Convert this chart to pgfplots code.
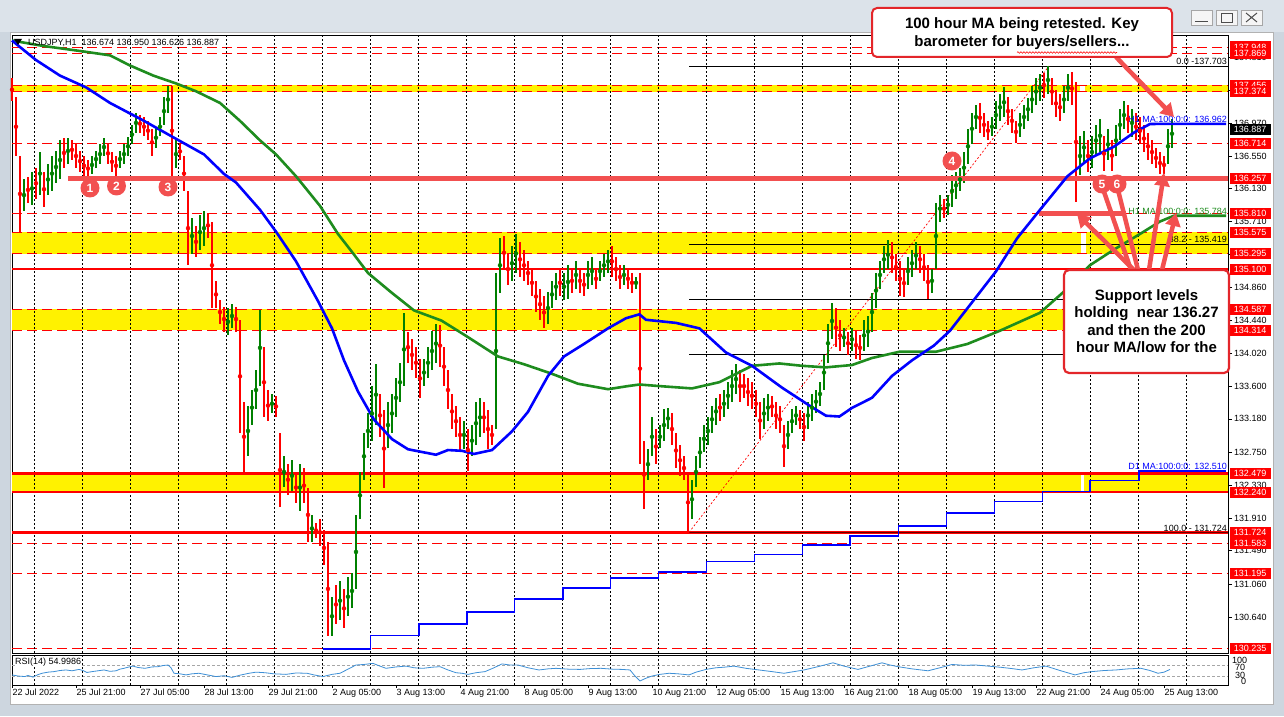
\documentclass[border=0pt]{standalone}
\usepackage{fontspec}
\setmainfont{Liberation Sans}
\usepackage{pgfplots}
\usepackage{pgfplotstable}
\pgfplotsset{compat=1.18}
\usetikzlibrary{arrows.meta,decorations.pathmorphing}
\definecolor{boxred}{HTML}{E3262A}
\definecolor{lred}{HTML}{F25050}
\definecolor{candgreen}{HTML}{008000}
\definecolor{candred}{HTML}{FF0000}
\definecolor{maone}{HTML}{0000FF}
\definecolor{matwo}{HTML}{1E8C1E}
\definecolor{rsiblue}{HTML}{3D8FD6}
\definecolor{titlebg}{HTML}{DCE3EA}
\definecolor{framebg}{HTML}{CDD6DF}
\newcommand{\sm}{\fontsize{9}{10}\selectfont}
\newcommand{\bfnt}{\fontsize{15}{17.5}\selectfont\bfseries}

\pgfplotstableread{
x lo hi
6 135.85 136.25
10 135.92 136.35
14 136.05 136.60
18 136.05 136.45
20 136.10 136.55
22 136.20 136.62
24 136.25 136.75
28 136.45 136.78
40 136.32 136.55
42 136.40 136.62
44 136.45 136.70
46 136.55 136.78
54 136.40 136.62
56 136.45 136.70
58 136.55 136.80
60 136.70 136.95
62 136.85 137.10
72 136.65 136.92
74 136.80 137.05
76 136.95 137.30
78 137.10 137.45
82 136.40 136.75
90 135.30 135.75
94 135.35 135.80
96 135.40 135.85
108 134.25 134.60
110 134.35 134.65
118 132.70 133.35
120 133.10 133.55
122 133.30 133.80
124 133.60 134.58
130 133.25 133.50
136 132.30 132.70
140 132.25 132.65
144 132.00 132.60
150 131.60 131.95
160 130.40 130.90
164 130.60 131.10
168 130.65 131.15
170 130.75 131.20
172 131.00 131.95
174 131.90 132.50
176 132.40 133.00
178 132.80 133.25
180 132.90 133.60
182 133.10 133.88
188 132.80 133.40
190 133.00 133.50
192 133.20 133.70
194 133.40 133.90
196 133.60 134.54
206 133.60 133.95
208 133.70 134.10
210 133.80 134.30
212 133.90 134.39
226 132.80 133.15
230 132.70 133.10
232 132.85 133.40
234 132.95 133.45
242 133.05 135.05
244 134.80 135.50
250 134.95 135.40
252 135.05 135.55
268 134.40 134.80
270 134.60 134.95
272 134.70 135.05
276 134.70 135.05
278 134.72 135.15
282 134.85 135.20
288 134.85 135.20
290 134.90 135.25
294 134.95 135.20
296 135.00 135.30
298 135.05 135.35
306 134.90 135.15
312 134.85 135.00
318 132.40 132.80
320 132.70 133.20
324 132.80 133.10
326 132.90 133.30
328 133.05 133.32
340 131.90 132.40
342 132.30 132.70
344 132.55 132.95
346 132.75 133.10
348 132.85 133.20
350 133.00 133.35
352 133.10 133.45
356 133.20 133.55
358 133.30 133.65
360 133.40 133.80
362 133.50 133.88
376 133.05 133.45
378 133.15 133.50
388 132.80 133.15
390 133.00 133.30
392 133.10 133.35
398 133.05 133.40
400 133.15 133.50
402 133.25 133.55
404 133.35 133.65
406 133.55 134.00
408 133.90 134.40
410 134.20 134.67
416 134.10 134.35
420 134.05 134.35
426 134.05 134.45
428 134.10 134.50
430 134.30 134.80
432 134.60 135.05
434 134.85 135.20
436 135.05 135.40
438 135.10 135.47
448 134.90 135.25
450 135.00 135.35
452 135.10 135.45
460 134.80 135.10
462 135.10 135.95
464 135.70 136.05
468 135.80 136.05
470 135.90 136.30
472 136.00 136.35
474 136.10 136.40
476 136.20 136.60
478 136.45 136.90
480 136.70 137.10
482 136.90 137.20
490 136.80 137.05
492 136.90 137.25
494 137.00 137.35
496 137.05 137.43
504 136.80 137.10
506 136.90 137.20
508 137.00 137.30
510 137.10 137.45
512 137.20 137.55
514 137.25 137.60
518 137.35 137.70
526 137.10 137.45
528 137.25 137.60
534 136.30 136.80
536 136.45 136.87
540 136.40 136.80
542 136.55 136.95
544 136.60 137.02
548 136.50 136.90
552 136.55 136.95
554 136.75 137.15
556 136.90 137.25
560 136.80 137.15
578 136.45 136.90
580 136.65 137.02
}\greenbars

\pgfplotstableread{
x lo hi
0 137.25 137.55
2 136.55 137.30
4 135.58 136.55
8 135.95 136.28
12 136.00 136.40
16 135.90 136.35
26 136.40 136.78
30 136.50 136.76
32 136.40 136.70
34 136.35 136.62
36 136.30 136.55
38 136.28 136.50
48 136.45 136.72
50 136.35 136.60
52 136.30 136.55
64 136.85 137.08
66 136.80 137.05
68 136.75 137.00
70 136.55 136.90
80 136.30 137.45
84 136.50 136.72
86 136.10 136.55
88 135.15 136.10
92 135.25 135.65
98 135.50 135.82
100 134.60 135.70
102 134.60 134.95
104 134.40 134.70
106 134.30 134.62
112 134.30 134.62
114 133.00 134.45
116 132.50 133.40
126 133.20 134.10
128 133.15 133.55
132 133.20 133.48
134 132.05 133.00
138 132.20 132.60
142 132.10 132.50
146 132.10 132.55
148 131.60 132.30
152 131.65 131.85
154 131.55 131.90
156 131.30 131.75
158 130.40 131.60
162 130.55 131.05
166 130.50 131.00
184 132.95 133.50
186 132.30 133.30
198 133.90 134.30
200 133.80 134.20
202 133.70 134.10
204 133.45 133.95
214 133.85 134.39
216 133.60 134.10
218 133.30 133.80
220 133.05 133.50
222 132.95 133.35
224 132.75 133.20
228 132.51 133.05
236 133.00 133.40
238 132.80 133.30
240 132.85 133.10
246 135.10 135.52
248 134.90 135.30
254 135.00 135.45
256 134.95 135.35
258 134.90 135.20
260 134.75 135.10
262 134.55 134.95
264 134.45 134.85
266 134.34 134.75
274 134.75 135.10
280 134.80 135.10
284 134.80 135.10
286 134.75 135.05
292 134.85 135.10
300 135.00 135.40
302 134.95 135.25
304 134.85 135.15
308 134.85 135.10
310 134.80 135.05
314 132.60 135.05
316 132.03 132.90
322 132.60 133.05
330 132.85 133.25
332 132.55 133.00
334 132.45 132.85
336 132.40 132.70
338 131.72 132.50
354 133.15 133.50
364 133.40 133.80
366 133.45 133.75
368 133.35 133.70
370 133.30 133.65
372 133.20 133.55
374 132.92 133.40
380 133.20 133.48
382 133.05 133.40
384 133.00 133.35
386 132.56 133.10
394 133.05 133.30
396 132.90 133.25
412 134.10 134.60
414 134.05 134.45
418 134.00 134.30
422 133.95 134.30
424 133.93 134.25
440 135.05 135.45
442 134.95 135.30
444 134.75 135.20
446 134.74 135.10
454 135.05 135.40
456 134.95 135.30
458 134.72 135.15
466 135.75 136.00
484 136.85 137.23
486 136.80 137.10
488 136.75 137.00
498 136.95 137.30
500 136.85 137.15
502 136.72 137.00
516 137.30 137.62
520 137.20 137.55
522 137.05 137.40
524 137.00 137.35
530 137.20 137.63
532 135.96 137.50
538 136.35 136.75
546 136.36 136.80
550 136.36 136.75
558 136.85 137.20
562 136.75 137.10
564 136.70 137.05
566 136.60 136.95
568 136.50 136.85
570 136.45 136.75
572 136.40 136.65
574 136.32 136.60
576 136.32 136.55
}\redbars

\pgfplotstableread{
x v
0 34
3 30
6.5 28
8 32
10.5 26
13 35
15 40
18 44
21 46
24 50
27 52
30 49
33.5 54
35.5 50
37.5 43
41 47
46 52
49 47
52 49
54 55
56 58
58 62
60.5 66
63 61
66.5 58
70 63
73 64
75.5 68
78 70
79.5 60
81 40
84 38
87 34
90 38
93.5 40
97 35
102 28
106 31
110 25
114 33
118.5 40
122 44
126.5 42
131 38
137 36
142 41
147.5 40
151 34
155.5 28
160 36
164 40
168 55
172 70
176 72
180.5 76
184 66
187 58
192 63
197 66
201 60
205.5 58
210 62
214 64
218 52
222 42
225 40
228 36
232 42
236.5 46
241 60
245 74
249 70
253 70
258 60
263.5 52
268 56
272 58
278 55
284 54
289 57
294.5 58
300 55
305 54
309 52
311.5 30
314 12
317 22
320 30
324 36
328.5 40
333 38
338.5 34
342 44
347 54
352 60
356 62
361 66
367 58
373.5 52
380 46
386 40
391 46
396 52
403 64
410.5 78
416 66
423 54
429 66
435 78
439 70
443 64
450 56
458 49
464 60
470 72
476 69
482 70
488 66
494.7 61.5
500 57
505 52
511 60
517 66
524 50
531.5 34
536 42
540 46
546 50
552 52
558 56
564.5 58
569 50
573 40
576 44
579 54
}\rsidata

\newcommand{\plab}[1]{\node[fill=candred, text=white, font=\sm, anchor=west, minimum width=41pt, minimum height=11pt, inner sep=0pt, xshift=1.5pt] at (axis cs:608,#1) {#1};}

\begin{document}
\begin{tikzpicture}[x=1pt,y=1pt]
% window chrome
\fill[framebg] (0,0) rectangle (1284,716);
\fill[titlebg] (0,684) rectangle (1284,716);
\fill[white] (10,12) rectangle (1273,684);
\draw[gray!60, line width=0.8pt] (10,12) rectangle (1273,684);
\foreach \bx in {1191,1216,1241}{
  \draw[gray!70, fill=gray!8, line width=0.6pt] (\bx,691) rectangle (\bx+21,706);
}
\draw[gray!60!black, line width=1pt] (1195,694) -- (1208,694);
\draw[gray!60!black, line width=0.8pt] (1221,694) rectangle (1232,703);
\draw[gray!60!black, line width=1pt] (1246,694) -- (1257,703) (1246,703) -- (1257,694);
\coordinate (mainSW) at (12pt,63pt);
\coordinate (rsiSW) at (12pt,31pt);

\begin{axis}[
  at={(mainSW)}, anchor=south west,
  scale only axis, width=1216pt, height=618pt,
  xmin=0, xmax=608, ymin=130.178, ymax=138.101,
  axis line style={black, line width=0.8pt},
  xtick=\empty,
  ytick={130.640,131.060,131.490,131.910,132.330,132.750,133.180,133.600,134.020,134.440,134.860,135.290,135.710,136.130,136.550,136.970,137.390,137.810},
  yticklabels={130.640,131.060,131.490,131.910,132.330,132.750,133.180,133.600,134.020,134.440,134.860,135.290,135.710,136.130,136.550,136.970,137.390,137.810},
  ytick pos=right, yticklabel pos=right,
  tick align=outside, major tick length=4pt,
  tick style={black, line width=0.6pt},
  yticklabel style={font=\sm, inner sep=1pt, xshift=1pt},
  clip=false,
]
% yellow zones
\addplot[draw=none, fill=yellow] coordinates {(0,137.374) (534,137.374) (534,137.456) (0,137.456)};
\addplot[draw=none, fill=yellow] coordinates {(536.5,137.374) (608,137.374) (608,137.456) (536.5,137.456)};
\addplot[draw=none, fill=yellow] coordinates {(0,135.295) (534.5,135.295) (534.5,135.575) (0,135.575)};
\addplot[draw=none, fill=yellow] coordinates {(537,135.295) (608,135.295) (608,135.575) (537,135.575)};
\addplot[draw=none, fill=yellow] coordinates {(0,134.314) (608,134.314) (608,134.587) (0,134.587)};
\addplot[draw=none, fill=yellow] coordinates {(0,132.240) (534.5,132.240) (534.5,132.479) (0,132.479)};
\addplot[draw=none, fill=yellow] coordinates {(536,132.240) (608,132.240) (608,132.479) (536,132.479)};
% dashed red levels
\pgfplotsinvokeforeach{137.948,137.869,137.456,137.374,136.714,135.810,135.575,135.295,134.587,134.314,131.583,131.195,130.235}{
  \addplot[candred, line width=0.8pt, dash pattern=on 10pt off 5pt] coordinates {(0,#1) (608,#1)};
}
% day separators
\pgfplotsinvokeforeach{11,35,59,83,107,131,155,179,203,227,251,275,299,323,347,371,395,419,443,467,491,515,539,563,587}{
  \addplot[black, line width=0.7pt, dash pattern=on 2pt off 2pt] coordinates {(#1,130.178) (#1,138.101)};
}
% solid red levels
\addplot[candred, line width=2.2pt] coordinates {(0,135.100) (608,135.100)};
\addplot[candred, line width=2.6pt] coordinates {(0,132.479) (608,132.479)};
\addplot[candred, line width=2.6pt] coordinates {(0,132.240) (608,132.240)};
\addplot[candred, line width=2.6pt] coordinates {(0,131.724) (608,131.724)};
% fibonacci
\addplot[black, line width=0.6pt] coordinates {(338.5,137.703) (608,137.703)};
\addplot[black, line width=0.6pt] coordinates {(338.5,135.419) (608,135.419)};
\addplot[black, line width=0.6pt] coordinates {(338.5,134.714) (608,134.714)};
\addplot[black, line width=0.6pt] coordinates {(338.5,134.008) (608,134.008)};
\addplot[black!60!red, line width=1pt] coordinates {(338.5,131.724) (608,131.724)};
\addplot[candred, line width=0.7pt, dash pattern=on 2pt off 2pt] coordinates {(338.5,131.724) (518.5,137.703)};
% price bars
\addplot[candgreen, only marks, mark=none, error bars/.cd, y dir=both, y explicit, error mark=none, error bar style={line width=1.4pt, candgreen}]
  table[x=x, y expr={(\thisrow{lo}+\thisrow{hi})/2}, y error expr={(\thisrow{hi}-\thisrow{lo})/2}] {\greenbars};
\addplot[candred, only marks, mark=none, error bars/.cd, y dir=both, y explicit, error mark=none, error bar style={line width=1.4pt, candred}]
  table[x=x, y expr={(\thisrow{lo}+\thisrow{hi})/2}, y error expr={(\thisrow{hi}-\thisrow{lo})/2}] {\redbars};
% support line drawn by hand
\addplot[lred, line width=5pt] coordinates {(28,136.257) (608,136.257)};
\addplot[lred, line width=4.5pt] coordinates {(513.5,135.810) (557,135.810)};
% D1 MA 100 (stepped)
\addplot[maone, line width=1.6pt, const plot] coordinates {(155.5,130.23) (179.3,130.40) (203.5,130.55) (227.5,130.70) (251.3,130.87) (275.5,131.01) (299.3,131.14) (323.3,131.22) (347.3,131.35) (371.3,131.44) (395.3,131.56) (419,131.68) (443.3,131.81) (467.3,131.97) (491.3,132.12) (515.3,132.25) (539,132.39) (563.5,132.51) (607,132.51)};
% H1 MA 200
\addplot[matwo, line width=2.6pt] coordinates {(0,138.03) (15.7,137.96) (35.7,137.89) (49,137.84) (59,137.71) (70.7,137.58) (82,137.48) (92,137.38) (104,137.23) (114,137.0) (124,136.75) (132,136.57) (142,136.29) (154,135.91) (163,135.55) (169.7,135.33) (178,135.05) (189.7,134.8) (201,134.57) (214.7,134.44) (226,134.26) (243,133.98) (256,133.88) (269.7,133.76) (283,133.63) (298,133.56) (308,133.6) (313.7,133.62) (323.7,133.6) (340,133.57) (353.7,133.65) (370,133.86) (383.7,133.89) (395,133.86) (407,133.84) (420,133.87) (430,133.96) (443.7,134.04) (462,134.04) (477.7,134.14) (494,134.31) (514,134.54) (527.7,134.85) (539,135.15) (551,135.35) (564,135.55) (574,135.71) (581,135.784) (607,135.784)};
% H1 MA 100
\addplot[maone, line width=2.6pt] coordinates {(0,138.03) (12,137.78) (24,137.58) (37,137.43) (49,137.23) (66,137.0) (82,136.77) (96,136.57) (106,136.32) (112,136.21) (124,135.86) (132,135.58) (142,135.2) (153,134.69) (160,134.34) (166,133.93) (173,133.53) (181,133.17) (190,132.92) (198,132.79) (212,132.72) (218,132.78) (225,132.77) (231,132.73) (240,132.78) (250,133.02) (258,133.27) (268,133.73) (276,133.98) (286,134.14) (298,134.34) (307,134.47) (313.7,134.52) (317,134.45) (332,134.41) (343.7,134.34) (357,134.03) (370,133.86) (385,133.58) (398.7,133.35) (407,133.22) (413.7,133.21) (420,133.32) (430,133.45) (440,133.73) (450,133.93) (461,134.12) (469,134.31) (479,134.64) (492,135.07) (502.7,135.5) (514,135.86) (527.7,136.29) (539,136.52) (551,136.67) (561,136.85) (569,136.96) (579,136.962) (607,136.962)};
% object labels
\node[font=\sm, anchor=south east, inner sep=1pt] at (axis cs:608,137.703) {0.0 -137.703};
\node[font=\sm, text=maone, anchor=south east, inner sep=1pt] at (axis cs:608,136.962) {H1 MA:100:0:0: 136.962};
\node[font=\sm, text=matwo, anchor=south east, inner sep=1pt] at (axis cs:608,135.784) {H1 MA:100:0:0: 135.784};
\node[font=\sm, anchor=south east, inner sep=1pt] at (axis cs:608,135.419) {38.2 - 135.419};
\node[font=\sm, text=maone, anchor=south east, inner sep=1pt] at (axis cs:608,132.510) {D1 MA:100:0:0: 132.510};
\node[font=\sm, anchor=south east, inner sep=1pt] at (axis cs:608,131.724) {100.0 - 131.724};
% price scale labels
\plab{137.948}\plab{137.869}\plab{137.456}\plab{137.374}\plab{136.714}\plab{136.257}
\plab{135.810}\plab{135.575}\plab{135.295}\plab{135.100}\plab{134.587}\plab{134.314}
\plab{132.479}\plab{132.240}\plab{131.724}\plab{131.583}\plab{131.195}\plab{130.235}
\node[fill=black, text=white, font=\sm, anchor=west, minimum width=41pt, minimum height=11pt, inner sep=0pt, xshift=1.5pt] at (axis cs:608,136.887) {136.887};
\end{axis}

\begin{axis}[
  at={(rsiSW)}, anchor=south west,
  scale only axis, width=1216pt, height=30pt,
  xmin=0, xmax=608, ymin=-2.7, ymax=106.4,
  axis line style={black, line width=0.8pt},
  ytick=\empty,
  xtick={0,32,64,96,128,160,192,224,256,288,320,352,384,416,448,480,512,544,576},
  xticklabels={22 Jul 2022,25 Jul 21:00,27 Jul 05:00,28 Jul 13:00,29 Jul 21:00,2 Aug 05:00,3 Aug 13:00,4 Aug 21:00,8 Aug 05:00,9 Aug 13:00,10 Aug 21:00,12 Aug 05:00,15 Aug 13:00,16 Aug 21:00,18 Aug 05:00,19 Aug 13:00,22 Aug 21:00,24 Aug 05:00,25 Aug 13:00},
  xtick pos=bottom, tick align=outside, major tick length=3pt,
  tick style={black, line width=0.6pt},
  xticklabel style={font=\sm, anchor=north west, inner sep=1pt, xshift=-0.5pt},
  clip=false,
]
\addplot[gray!70, line width=0.6pt, dash pattern=on 3pt off 2pt] coordinates {(0,70) (608,70)};
\addplot[gray!70, line width=0.6pt, dash pattern=on 3pt off 2pt] coordinates {(0,30) (608,30)};
\pgfplotsinvokeforeach{11,35,59,83,107,131,155,179,203,227,251,275,299,323,347,371,395,419,443,467,491,515,539,563,587}{
  \addplot[black, line width=0.7pt, dash pattern=on 2pt off 2pt] coordinates {(#1,-2.7) (#1,106.4)};
}
\addplot[rsiblue, line width=0.8pt] table[x=x, y=v] {\rsidata};
\end{axis}

% texts in panel corners
\node[font=\sm, anchor=west, inner sep=0pt] at (28,673) {USDJPY,H1\ \ 136.674 136.950 136.626 136.887};
\fill[black] (14,677) -- (22,677) -- (18,671) -- cycle;
\node[font=\sm, anchor=west, inner sep=0pt, fill=white] at (15,54) {RSI(14) 54.9986};
\node[font=\sm, anchor=west, inner sep=0pt] at (1232,56) {100};
\node[font=\sm, anchor=west, inner sep=0pt] at (1235,49) {70};
\node[font=\sm, anchor=west, inner sep=0pt] at (1235,40.5) {30};
\node[font=\sm, anchor=west, inner sep=0pt] at (1241,35) {0};

% arrows
\begin{scope}[lred, line width=4.5pt]
\draw[-{Triangle[length=13pt,width=15pt]}] (1116,659) -- (1174,599);
\draw[-{Triangle[length=13pt,width=15pt]}] (1134,446) -- (1077,502);
\draw (1131,446) -- (1102,530);
\draw (1138,446) -- (1117,530);
\draw[-{Triangle[length=13pt,width=15pt]}] (1149,446) -- (1164,543);
\draw[-{Triangle[length=13pt,width=15pt]}] (1162,446) -- (1176,503);
\end{scope}

% numbered markers
\foreach \px/\py/\n in {90/528/1,116.5/530/2,168/529/3,952/555/4,1102/532/5,1117/532/6}{
  \node[circle, fill=lred, text=white, font=\fontsize{12}{12}\selectfont\bfseries, minimum size=19pt, inner sep=0pt] at (\px,\py) {\n};
}

% annotation boxes
\draw[boxred, line width=2pt, rounded corners=5pt, fill=white] (872,659) rectangle (1172,708);
\node[font=\bfnt, align=center, inner sep=0pt] at (1022,682.5) {100 hour MA being retested. Key\\barometer for buyers/sellers...};
\draw[red, line width=0.6pt, decorate, decoration={snake, amplitude=0.8pt, segment length=3pt}] (1017,663.5) -- (1117,663.5);
\draw[boxred, line width=2.2pt, rounded corners=5pt, fill=white] (1064,343) rectangle (1229,446);
\node[font=\bfnt, align=center, inner sep=0pt] at (1146.5,395) {Support levels\\holding\ \ near 136.27\\and then the 200\\hour MA/low for the};

\pgfresetboundingbox
\useasboundingbox (0,0) rectangle (1284,716);
\end{tikzpicture}
\end{document}
